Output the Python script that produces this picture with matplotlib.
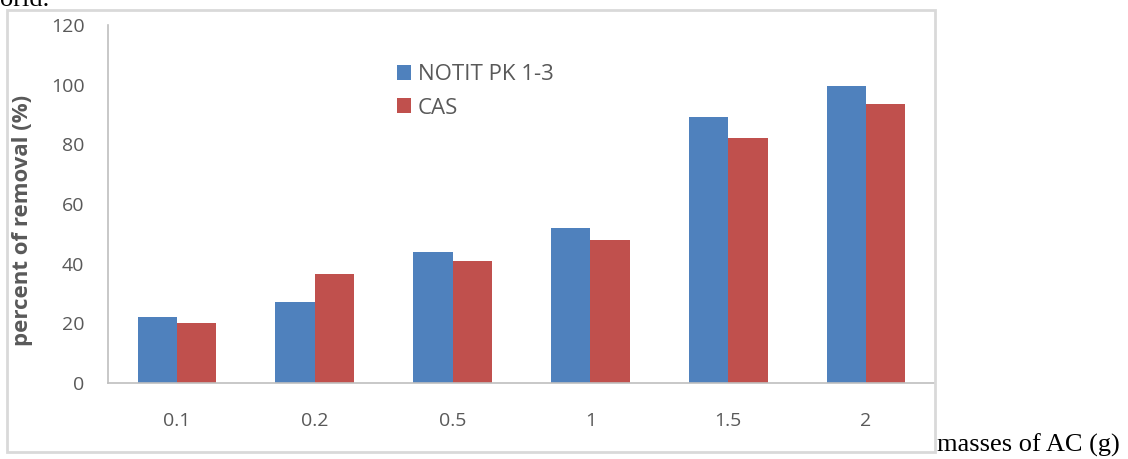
import numpy as np
import matplotlib.pyplot as plt
from matplotlib.patches import Rectangle

# Data
masses = ['0.1', '0.2', '0.5', '1', '1.5', '2']
notit = [22, 27, 44, 52, 89, 99.5]
cas = [20, 36.5, 41, 48, 82, 93.5]

blue = '#4f81bd'
red = '#c0504d'
grey = '#595959'

plt.rcParams['font.family'] = ['Open Sans', 'DejaVu Sans']

fig = plt.figure(figsize=(11.28, 4.59), dpi=100)
W, H = 1128, 459

# outer chart frame
fig.patches.append(Rectangle((7 / W, 1 - 452 / H), 928 / W, 442 / H,
                             transform=fig.transFigure, fill=False,
                             edgecolor='#d9d9d9', linewidth=2))

ax = fig.add_axes([108 / W, 1 - 383 / H, 827 / W, 358 / H])
x = np.arange(len(masses))
w = 0.285
ax.bar(x - w / 2, notit, w, color=blue, label='NOTIT PK 1-3')
ax.bar(x + w / 2, cas, w, color=red, label='CAS')

ax.set_xlim(-0.5, len(masses) - 0.5)
ax.set_ylim(0, 120)
ax.set_yticks(np.arange(0, 121, 20))
ax.set_xticks(x)
ax.set_xticklabels(masses)
ax.tick_params(length=0, labelsize=14, colors=grey)
ax.tick_params(axis='y', pad=17)
ax.tick_params(axis='x', pad=21)
for s in ['top', 'right']:
    ax.spines[s].set_visible(False)
for s in ['left', 'bottom']:
    ax.spines[s].set_color('#bfbfbf')
    ax.spines[s].set_linewidth(1.2)

ax.set_ylabel('percent of removal (%)', fontsize=16, fontweight='bold',
              color=grey)
ax.yaxis.set_label_coords(-0.091, 0.455)

ax.legend(loc='upper left', bbox_to_anchor=(0.349, 0.89), frameon=False,
          fontsize=16, labelcolor=grey, handlelength=0.65, handleheight=0.65,
          handletextpad=0.3, labelspacing=0.55, borderpad=0, borderaxespad=0)

fig.text(937 / W, 1 - 452 / H, 'masses of AC (g)', family='Liberation Serif',
         fontsize=19, ha='left', va='baseline', color='black')
fig.text(0, 1 - 6 / H, 'orld.', family='Liberation Serif',
         fontsize=19, ha='left', va='baseline', color='black')

fig.savefig('out.png', dpi=100)
